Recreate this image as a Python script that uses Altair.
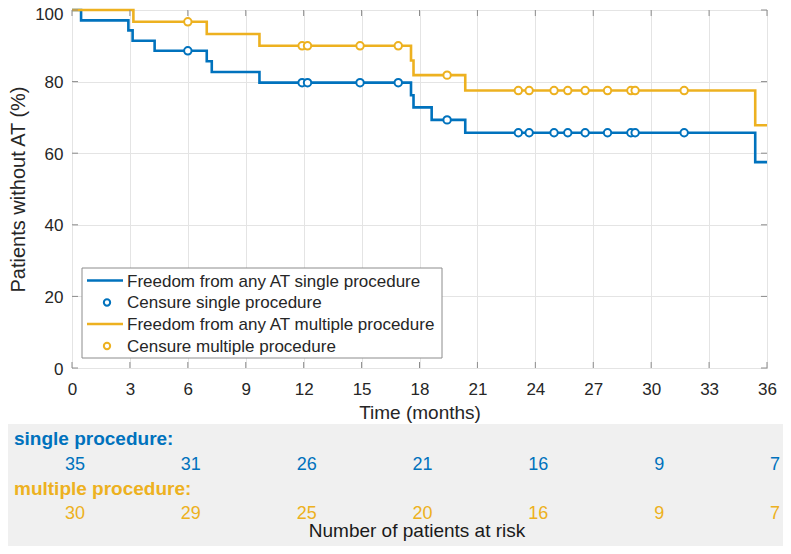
import altair as alt
import pandas as pd

FONT = "Liberation Sans"
BLUE = "#0072BD"
ORANGE = "#EDB120"

# Kaplan-Meier curves (time in months, % without AT)
single_t = [0, 0.47, 2.92, 3.14, 4.28, 6.98, 7.24, 9.71, 17.56, 17.69, 18.63, 20.37, 35.39, 36]
single_s = [100, 97.1, 94.3, 91.4, 88.6, 85.7, 82.7, 79.7, 76.2, 72.8, 69.3, 65.7, 57.5, 57.5]
multi_t = [0, 3.18, 6.98, 9.71, 17.56, 17.69, 20.37, 35.39, 36]
multi_s = [100, 96.7, 93.3, 90.0, 85.9, 81.8, 77.5, 67.8, 67.8]

# Censored observations
cens_t = [6.0, 11.92, 12.2, 14.92, 16.9, 19.43, 23.12, 23.68, 24.97, 25.68, 26.58, 27.74, 28.95, 29.17, 31.71]
single_cens_s = [88.6, 79.7, 79.7, 79.7, 79.7, 69.3, 65.7, 65.7, 65.7, 65.7, 65.7, 65.7, 65.7, 65.7, 65.7]
multi_cens_s = [96.7, 90.0, 90.0, 90.0, 90.0, 81.8, 77.5, 77.5, 77.5, 77.5, 77.5, 77.5, 77.5, 77.5, 77.5]

# Numbers at risk
risk_t = [0, 6, 12, 18, 24, 30, 36]
risk_single = [35, 31, 26, 21, 16, 9, 7]
risk_multi = [30, 29, 25, 20, 16, 9, 7]

# Axis ticks
x_ticks = list(range(0, 37, 3))
y_ticks = [0, 20, 40, 60, 80, 100]

legend_labels = [
    "Freedom from any AT single procedure",
    "Censure single procedure",
    "Freedom from any AT multiple procedure",
    "Censure multiple procedure",
]

W, H = 695, 358
xscale = alt.Scale(domain=[0, 36], nice=False, zero=False)
yscale = alt.Scale(domain=[0, 100], nice=False)

x_axis = alt.Axis(
    values=x_ticks, title="Time (months)", grid=True, gridColor="#e4e4e4", domain=False,
    ticks=False, labelFont=FONT, labelFontSize=17, labelColor="#262626", labelPadding=13,
    titleFont=FONT, titleFontSize=19, titleFontWeight="normal", titleColor="#262626",
    titlePadding=6, labelFlush=False)
y_axis = alt.Axis(
    values=y_ticks, title="Patients without AT (%)", grid=True, gridColor="#e4e4e4",
    domain=False, ticks=False, labelFont=FONT, labelFontSize=17, labelColor="#262626",
    labelPadding=9, titleFont=FONT, titleFontSize=20, titleFontWeight="normal",
    titleColor="#262626", titlePadding=6,
    labelOffset={"condition": {"test": "datum.value == 100", "value": 4}, "value": 1})
X = alt.X("t:Q", scale=xscale, axis=x_axis)
Y = alt.Y("s:Q", scale=yscale, axis=y_axis)

curves = pd.concat([
    pd.DataFrame({"t": single_t, "s": single_s, "g": "single"}),
    pd.DataFrame({"t": multi_t, "s": multi_s, "g": "multiple"}),
])
cens = pd.concat([
    pd.DataFrame({"t": cens_t, "s": single_cens_s, "g": "single"}),
    pd.DataFrame({"t": cens_t, "s": multi_cens_s, "g": "multiple"}),
])
grp_scale = alt.Scale(domain=["single", "multiple"], range=[BLUE, ORANGE])

one = pd.DataFrame({"a": [0]})

bg = alt.Chart(one).mark_rect(color="#f0f0f0").encode(
    x=alt.value(-65), x2=alt.value(711), y=alt.value(414), y2=alt.value(536))

lines = alt.Chart(curves).mark_line(interpolate="step-after", strokeWidth=2.6).encode(
    x=X, y=Y,
    color=alt.Color("g:N", scale=grp_scale, legend=None),
    detail="g:N",
)

points = alt.Chart(cens).mark_point(shape="circle", fill="white", fillOpacity=1, opacity=1,
                                    strokeWidth=2, size=55).encode(
    x=X, y=Y,
    stroke=alt.Stroke("g:N", scale=grp_scale, legend=None),
)

xt = pd.DataFrame({"t": x_ticks})
yt = pd.DataFrame({"s": y_ticks})
tick_col = "#8c8c8c"
tx_bot = alt.Chart(xt).mark_rule(color=tick_col).encode(x=X, y=alt.value(H), y2=alt.value(H - 6))
tx_top = alt.Chart(xt).mark_rule(color=tick_col).encode(x=X, y=alt.value(0), y2=alt.value(6))
ty_l = alt.Chart(yt).mark_rule(color=tick_col).encode(y=Y, x=alt.value(0), x2=alt.value(6))
ty_r = alt.Chart(yt).mark_rule(color=tick_col).encode(y=Y, x=alt.value(W), x2=alt.value(W - 6))

# Legend
leg_box = alt.Chart(one).mark_rect(fill="white", stroke="#8c8c8c", strokeWidth=1).encode(
    x=alt.value(10), x2=alt.value(370), y=alt.value(258), y2=alt.value(348))
row_y = [271.5, 293, 315, 336.5]
leg_cols = [BLUE, BLUE, ORANGE, ORANGE]
leg_layers = []
for i, lab in enumerate(legend_labels):
    d = pd.DataFrame({"label": [lab]})
    if i % 2 == 0:
        leg_layers.append(alt.Chart(d).mark_rule(color=leg_cols[i], strokeWidth=2.6).encode(
            x=alt.value(15), x2=alt.value(51), y=alt.value(row_y[i] - 1)))
    else:
        leg_layers.append(alt.Chart(d).mark_point(shape="circle", fill="white", fillOpacity=1,
                                                  stroke=leg_cols[i], strokeWidth=2, size=40).encode(
            x=alt.value(35), y=alt.value(row_y[i] - 0.5)))
    leg_layers.append(alt.Chart(d).mark_text(align="left", baseline="middle", font=FONT,
                                             fontSize=17, color="#262626").encode(
        x=alt.value(55), y=alt.value(row_y[i]), text="label:N"))

# Risk table
rs = pd.DataFrame({"t": risk_t, "n": risk_single})
rm = pd.DataFrame({"t": risk_t, "n": risk_multi})
num_single = alt.Chart(rs).mark_text(align="right", baseline="alphabetic", dx=13, font=FONT,
                                     fontSize=18, color=BLUE).encode(
    x=X, y=alt.value(460), text="n:Q")
num_multi = alt.Chart(rm).mark_text(align="right", baseline="alphabetic", dx=13, font=FONT,
                                    fontSize=18, color=ORANGE).encode(
    x=X, y=alt.value(509), text="n:Q")
lab_single = alt.Chart(pd.DataFrame({"label": ["single procedure:"]})).mark_text(
    align="left", baseline="alphabetic", font=FONT, fontSize=19, fontWeight="bold", color=BLUE).encode(
    x=alt.value(-58), y=alt.value(435), text="label:N")
lab_multi = alt.Chart(pd.DataFrame({"label": ["multiple procedure:"]})).mark_text(
    align="left", baseline="alphabetic", font=FONT, fontSize=19, fontWeight="bold", color=ORANGE).encode(
    x=alt.value(-58), y=alt.value(485), text="label:N")
risk_title = alt.Chart(pd.DataFrame({"label": ["Number of patients at risk"]})).mark_text(
    align="center", baseline="alphabetic", font=FONT, fontSize=19, color="#1a1a1a").encode(
    x=alt.value(345), y=alt.value(527), text="label:N")

chart = alt.layer(
    bg, lines, tx_bot, tx_top, ty_l, ty_r, points, leg_box, *leg_layers,
    num_single, num_multi, lab_single, lab_multi, risk_title,
).properties(
    width=W, height=H,
    autosize=alt.AutoSizeParams(type="none"),
    padding={"left": 64, "top": 2, "right": 16, "bottom": 178},
).configure_view(stroke="#8c8c8c", strokeWidth=1)

chart.save("out.html", embed_options={"renderer": "svg", "actions": False})
